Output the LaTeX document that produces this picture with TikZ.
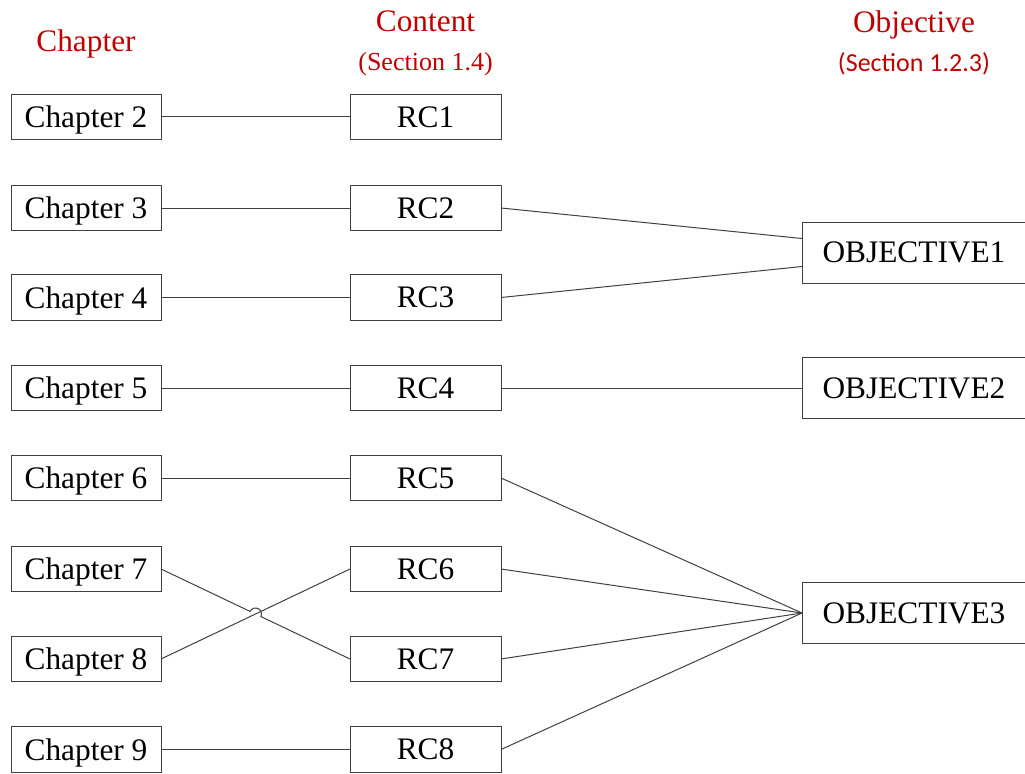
\documentclass[tikz,border=0pt]{standalone}
\usepackage{fontspec}
\setmainfont{Liberation Serif}
\newfontfamily\calibri{Carlito}
\usetikzlibrary{calc}
\definecolor{headred}{HTML}{C00000}
\definecolor{linegray}{HTML}{404040}
\begin{document}
\begin{tikzpicture}[x=0.75pt,y=0.75pt,
  every node/.style={inner sep=0pt,outer sep=0pt},
  boxtext/.style={font=\fontsize{23.5}{28}\selectfont,text depth=0pt},
  chapbox/.style={boxtext,draw=linegray,line width=0.75pt,minimum width=112.5pt,minimum height=34pt},
  rcbox/.style={boxtext,draw=linegray,line width=0.75pt,minimum width=113.25pt,minimum height=34pt},
  objbox/.style={boxtext,draw=linegray,line width=0.75pt,minimum width=168pt,minimum height=45.75pt},
  head/.style={anchor=base,text=headred,font=\fontsize{23.5}{28}\selectfont},
  subhead/.style={anchor=base,text=headred,font=\fontsize{19.5}{24}\selectfont},
  link/.style={draw=linegray,line width=0.75pt}]
\useasboundingbox (0,0) rectangle (1025,-774);

% column headings (placed on their baselines)
\node[head] (hch) at (86,-52) {Chapter};
\node[head] (hct) at (425.5,-32) {Content};
\node[subhead] (hcs) at (425.5,-71) {(Section 1.4)};
\node[head] (hob) at (914,-33) {Objective};
\node[subhead,font=\calibri\fontsize{19.5}{24}\selectfont] (hos) at (914,-72) {(Section 1.2.3)};

% chapters and research contents
\foreach \i/\y in {2/117,3/208,4/297.5,5/388,6/478,7/569,8/659,9/749.5}{
  \node[chapbox] (c\i) at (86,-\y) {Chapter \i};
}
\foreach \i/\y in {1/117,2/208,3/297.5,4/388,5/478,6/569,7/659,8/749.5}{
  \node[rcbox] (r\i) at (425.5,-\y) {RC\i};
}

% objectives
\node[objbox] (o1) at (914,-252.5) {OBJECTIVE1};
\node[objbox] (o2) at (914,-388) {OBJECTIVE2};
\node[objbox] (o3) at (914,-613) {OBJECTIVE3};

% chapter to content links
\draw[link] (c2.east) -- (r1.west);
\draw[link] (c3.east) -- (r2.west);
\draw[link] (c4.east) -- (r3.west);
\draw[link] (c5.east) -- (r4.west);
\draw[link] (c6.east) -- (r5.west);
\draw[link] (c9.east) -- (r8.west);
\draw[link] (c8.east) -- (r6.west);
% crossing link with a hop over the other one
\coordinate (m) at ($(c7.east)!0.5!(r7.west)$);
\coordinate (h1) at ($(m)!4.5pt!(c7.east)$);
\draw[link] (c7.east) -- (h1) arc[start angle=154.54,end angle=-25.46,radius=4.5pt] -- (r7.west);

% content to objective links
\draw[link] (r2.east) -- ([yshift=10.5pt]o1.west);
\draw[link] (r3.east) -- ([yshift=-10.5pt]o1.west);
\draw[link] (r4.east) -- (o2.west);
\draw[link] (r5.east) -- (o3.west);
\draw[link] (r6.east) -- (o3.west);
\draw[link] (r7.east) -- (o3.west);
\draw[link] (r8.east) -- (o3.west);
\end{tikzpicture}
\end{document}
